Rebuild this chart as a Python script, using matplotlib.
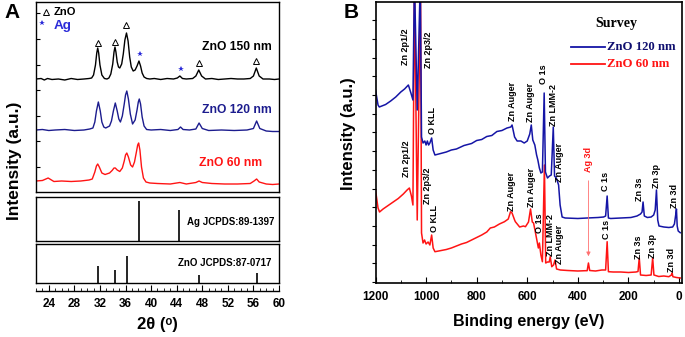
import numpy as np
import matplotlib
matplotlib.use('Agg')
import matplotlib.pyplot as plt

plt.rcParams['font.family'] = ['Liberation Sans', 'DejaVu Sans']
plt.rcParams['font.weight'] = 'bold'

# ---------------- panel A : XRD ----------------
tt_150 = [22.0, 22.8, 23.3, 23.8, 24.5, 25.5, 26.5, 27.5, 28.5, 29.5, 30.3, 30.7, 31.0, 31.3, 31.5, 31.65, 31.8,
          32.0, 32.3, 32.7, 33.1, 33.4, 33.7, 34.0, 34.2, 34.35, 34.5, 34.7, 34.9, 35.1, 35.4, 35.65, 35.9,
          36.15, 36.4, 36.65, 36.9, 37.2, 37.5, 37.8, 38.1, 38.35, 38.6, 38.9, 39.3, 39.8, 40.5, 41.5, 42.5,
          43.5, 44.1, 44.5, 44.9, 45.5, 46.5, 47.0, 47.45, 47.9, 48.5, 49.5, 50.5, 51.5, 52.5, 53.5, 54.5,
          55.5, 56.0, 56.45, 56.9, 57.5, 58.5, 59.3, 60.0]
int_150 = [113, 113.5, 112, 113.5, 112.5, 113, 112, 113.5, 112.5, 113, 113.5, 114, 117, 127, 139, 144, 139,
           127, 117, 113.5, 113, 114, 118, 128, 140, 145, 140, 130, 125, 124, 128, 138, 152,
           159, 151, 135, 125, 121, 122, 126, 131, 126, 119, 115, 113.5, 113, 113.5, 112.5, 113.5,
           113, 114, 116, 113.5, 113, 113.5, 116, 122, 116, 113, 113.5, 112.5, 113, 113.5, 113, 113,
           113.5, 116, 124, 116, 113, 113, 112.5, 113]

tt_120 = [22.0, 23.0, 24.0, 25.0, 26.5, 28.0, 29.5, 30.4, 30.9, 31.2, 31.45, 31.75, 32.05, 32.3, 32.6, 32.9,
          33.5, 33.8, 34.1, 34.4, 34.7, 34.95, 35.2, 35.5, 35.8, 36.0, 36.2, 36.45, 36.75, 37.1, 37.5, 37.8,
          38.0, 38.15, 38.35, 38.6, 38.9, 39.3, 40.0, 41.5, 43.0, 44.2, 44.6, 45.0, 46.0, 47.0, 47.5, 48.0,
          49.0, 51.0, 53.0, 55.0, 56.0, 56.5, 57.0, 58.0, 59.0, 60.0]
int_120 = [62, 62.5, 61.5, 62, 62.5, 61.5, 62, 63, 64, 70, 81, 90, 81, 70, 65, 64,
           66, 71, 81, 89, 81, 73, 70, 76, 88, 97, 101, 93, 78, 68, 72, 82,
           90, 93, 88, 75, 66, 62.5, 62, 62.5, 61.5, 62.5, 65, 62.5, 62, 63, 69, 63.5,
           61.5, 62, 61.5, 62, 63.5, 71, 63.5, 61, 60.5, 60.5]

tt_60 = [22.0, 23.0, 23.9, 24.8, 26.0, 27.5, 29.0, 30.3, 30.8, 31.2, 31.45, 31.65, 31.9, 32.3, 32.8, 33.5,
         33.9, 34.2, 34.4, 34.7, 35.1, 35.5, 35.8, 36.0, 36.2, 36.45, 36.8, 37.1, 37.4, 37.7, 37.9, 38.05,
         38.25, 38.5, 38.8, 39.2, 39.8, 41.0, 43.0, 44.5, 45.5, 47.0, 47.5, 48.0, 49.5, 51.5, 53.5, 55.5,
         56.1, 56.5, 56.9, 58.0, 59.0, 60.0]
int_60 = [11, 11.5, 14, 10.5, 11, 10.5, 11, 12, 13, 20, 26, 28, 25, 19, 17.5, 19,
          21.5, 24, 24, 22, 20.5, 24, 31, 37, 39, 35, 27, 25, 30, 40, 47, 49,
          42, 25, 14, 10, 9, 8.5, 8, 9.5, 8, 9.5, 11, 9.5, 8.5, 8, 8, 8.5,
          11, 13, 10, 8, 7.5, 8]

zno_mark_tt = [31.65, 34.35, 36.15, 47.45, 56.45]
zno_mark_int = [149, 150, 167, 129.5, 131]
ag_mark_tt = [38.2, 44.6]
ag_mark_int = [138, 123]

ag_ref_tt = [38.1, 44.3]
ag_ref_int = [100, 77]
zno_ref_tt = [31.77, 34.42, 36.25, 47.54, 56.6]
zno_ref_int = [63, 48, 100, 30, 37]

# ---------------- panel B : XPS survey ----------------
be_120 = [1200, 1190, 1185, 1175, 1160, 1140, 1120, 1100, 1085, 1070, 1060, 1052, 1046, 1035, 1023, 1018,
          1012, 1005, 1000, 995, 990, 985, 978, 972, 965, 950, 920, 900, 880, 850, 820, 800, 780, 760,
          740, 720, 700, 680, 665, 660, 650, 640, 625, 612, 600, 590, 584, 578, 570, 563, 558, 552, 546,
          540, 533, 528, 520, 512, 505, 497, 492, 485, 476, 470, 462, 450, 400, 363, 320, 298, 290, 284,
          279, 270, 230, 190, 166, 152, 146, 142, 137, 125, 110, 100, 94, 89, 84, 79, 60, 40, 25, 18,
          13, 10, 7, 3, -5]
xps_120 = [193, 178, 176, 177, 178.5, 182, 186, 191, 194, 198, 190, 183, 303, 173, 303, 146,
           140, 142, 138, 142, 138, 140, 145, 133, 128, 129, 131, 133, 134, 137.5, 139.5, 142.5, 143.5, 146.5,
           147.5, 151.5, 152.5, 155, 156, 158, 146, 142, 142, 140, 142, 149, 158, 143, 138, 128, 123, 115, 110,
           111, 190, 111, 105, 107, 108, 156, 107, 105, 98, 78, 66, 65, 64.5, 65, 65.5, 66, 67, 87,
           65, 64.5, 65, 65.5, 67, 69, 71, 81, 67, 65.5, 66, 68, 73, 93, 63, 57, 56, 55.5, 56, 59,
           68, 74, 57, 52, 50.3]

be_60 = [1200, 1190, 1184, 1170, 1150, 1130, 1110, 1090, 1075, 1066, 1058, 1052, 1046, 1035, 1022, 1018,
         1012, 1006, 1000, 992, 985, 978, 972, 965, 950, 920, 900, 880, 860, 840, 820, 800, 780, 760,
         746, 730, 710, 690, 675, 666, 660, 650, 647, 630, 615, 607, 595, 587, 580, 575, 568, 562, 556,
         552, 546, 540, 532, 527, 520, 513, 509, 503, 496, 490, 484, 469, 440, 400, 370, 363, 358, 353,
         330, 305, 290, 284, 279, 260, 230, 200, 170, 162, 157, 152, 130, 110, 104, 99, 80, 60, 40, 30,
         27, 24, 10, -5]
xps_60 = [93, 75, 71, 74, 77.5, 81, 84.5, 89, 93, 95, 87, 78, 303, 63, 303, 50,
          40, 43, 39, 41, 38, 48, 35, 31.3, 32, 33.5, 35, 37, 39, 40.5, 43, 45.5, 48, 51,
          55, 56, 59, 61.3, 64, 71.3, 70, 63, 61.3, 56, 57, 56.3, 61, 74, 61, 60, 51, 43, 35,
          40, 28, 21.3, 118, 20, 21, 21, 26.3, 16.3, 18, 23, 14, 13, 12.5, 12, 12.3, 12.3, 20, 12.5,
          12, 13, 13, 41.3, 11.3, 11, 11, 10.5, 11, 11.5, 25, 8, 7.5, 8, 25, 8, 6.5, 7, 6.3, 8,
          10, 6.3, 5.5, 5]

labels_120 = [('Zn 2p1/2', 1081, 236), ('Zn 2p3/2', 992, 233), ('O KLL', 974, 162), ('Zn Auger', 660, 182),
              ('Zn Auger', 587, 181), ('O 1s', 535, 209), ('Zn LMM-2', 498, 178), ('Zn Auger', 472, 121),
              ('C 1s', 291, 102), ('Zn 3s', 156, 94), ('Zn 3p', 90, 107), ('Zn 3d', 18, 87)]
labels_60 = [('Zn 2p1/2', 1077, 124), ('Zn 2p3/2', 996, 97), ('O KLL', 965, 64), ('Zn Auger', 662, 92),
             ('Zn Auger', 583, 96), ('O 1s', 553, 60), ('Zn LMM-2', 507, 48), ('Zn Auger', 472, 39),
             ('C 1s', 287, 54), ('Zn 3s', 160, 36), ('Zn 3p', 103, 37), ('Zn 3d', 31, 23)]

navy = '#1c1c8e'
blue = '#1515a6'
red = '#ff1414'

W, H = 685, 337
fig = plt.figure(figsize=(W / 100, H / 100), dpi=100)

def box(x0, y0, x1, y1):
    # pixel box (top-left origin) -> figure fraction rect
    return [x0 / W, 1 - y1 / H, (x1 - x0) / W, (y1 - y0) / H]

# ---- A main ----
axA = fig.add_axes(box(36, 2, 279, 192))
axA.plot(tt_150, int_150, color='black', lw=1.0)
axA.plot(tt_120, int_120, color=navy, lw=1.0)
axA.plot(tt_60, int_60, color=red, lw=1.0)
axA.plot(zno_mark_tt, zno_mark_int, ls='none', marker='^', mfc='none', mec='black', ms=5, mew=0.7)
axA.plot(ag_mark_tt, ag_mark_int, ls='none', marker='*', color='#2a2ad8', ms=4, mew=0)
axA.set_xlim(22, 60)
axA.set_ylim(0, 190)
axA.set_xticks([])
axA.set_yticks(np.arange(25, 190, 25.6))
axA.tick_params(axis='y', direction='in', length=3, width=0.8, labelleft=False)
axA.plot([23.5], [180], ls='none', marker='^', mfc='none', mec='black', ms=5, mew=0.7)
axA.text(24.7, 180, 'ZnO', fontsize=8, va='center', ha='left')
axA.plot([22.9], [169], ls='none', marker='*', color='#2a2ad8', ms=4, mew=0)
axA.text(24.7, 165.5, 'Ag', fontsize=9.7, va='center', ha='left', color='#2a2ad8')
axA.text(48.0, 145, 'ZnO 150 nm', fontsize=8.7, va='center', ha='left', color='black')
axA.text(48.0, 82, 'ZnO 120 nm', fontsize=8.7, va='center', ha='left', color=navy)
axA.text(47.5, 29, 'ZnO 60 nm', fontsize=8.7, va='center', ha='left', color=red)
for s in axA.spines.values():
    s.set_linewidth(1.0)

# ---- A references ----
axAg = fig.add_axes(box(36, 197, 279, 241))
axAg.vlines(ag_ref_tt, 0, ag_ref_int, color='black', lw=1.2)
axAg.set_xlim(22, 60)
axAg.set_ylim(0, 109)
axAg.set_xticks([]); axAg.set_yticks([])
axAg.text(45.6, 0.43, 'Ag JCPDS:89-1397', fontsize=7, va='center', ha='left',
          transform=axAg.get_xaxis_transform())

axZ = fig.add_axes(box(36, 244, 279, 283))
axZ.vlines(zno_ref_tt, 0, zno_ref_int, color='black', lw=1.2)
axZ.set_xlim(22, 60)
axZ.set_ylim(0, 145)
axZ.set_xticks([]); axZ.set_yticks([])
axZ.text(44.2, 0.51, 'ZnO JCPDS:87-0717', fontsize=7, va='center', ha='left',
         transform=axZ.get_xaxis_transform())
for a in (axAg, axZ):
    for s in a.spines.values():
        s.set_linewidth(1.0)

axT = fig.add_axes(box(36, 290.5, 279, 290.7))
axT.patch.set_visible(False)
for k in ('left', 'right', 'top'):
    axT.spines[k].set_visible(False)
axT.spines['bottom'].set_linewidth(1.0)
axT.set_xlim(22, 60)
axT.set_yticks([])
axT.set_xticks(np.arange(24, 61, 4))
axT.set_xticks(np.arange(22, 61, 1), minor=True)
axT.tick_params(axis='x', which='major', direction='in', length=4, width=0.8, labelsize=8.5, pad=5)
axT.tick_params(axis='x', which='minor', direction='in', length=2, width=0.6)
fig.text(157.5 / W, 1 - 325 / H, '2θ (ᵒ)', fontsize=12, ha='center', va='center')
fig.text(15 / W, 1 - 161 / H, 'Intensity (a.u.)', fontsize=12.5, ha='center', va='center', rotation=90)
fig.text(12 / W, 1 - 12.5 / H, 'A', fontsize=15, ha='center', va='center')

# ---- B ----
axB = fig.add_axes(box(375.5, 2, 682, 283))
axB.plot(be_60, xps_60, color=red, lw=1.1)
axB.plot(be_120, xps_120, color=blue, lw=1.1)
axB.set_xlim(1200, -12)
axB.set_ylim(0, 281)
axB.set_xticks(np.arange(0, 1201, 200))
axB.set_xticks(np.arange(0, 1201, 100), minor=True)
axB.set_yticks(np.arange(1, 281, 18.7))
axB.tick_params(axis='x', which='major', direction='in', length=4, width=0.8, labelsize=8.5, pad=6)
axB.tick_params(axis='x', which='minor', direction='in', length=2, width=0.6)
axB.tick_params(axis='y', direction='out', length=3, width=0.8, labelleft=False)
for s in axB.spines.values():
    s.set_linewidth(1.2)
for txt, x, y in labels_120 + labels_60:
    axB.text(x, y, txt, fontsize=6.5, rotation=90, ha='center', va='center')
axB.text(359, 123, 'Ag 3d', fontsize=6.5, rotation=90, ha='center', va='center', color=red)
axB.annotate('', xy=(358, 24), xytext=(358, 105),
             arrowprops=dict(arrowstyle='-|>', color='#ff7070', lw=0.6, mutation_scale=6))
serif = ['Liberation Serif', 'DejaVu Serif']
axB.text(0.785, 0.925, 'Survey', transform=axB.transAxes, fontsize=10, family=serif, ha='center', va='center')
axB.plot([0.638, 0.749], [0.84, 0.84], transform=axB.transAxes, color=blue, lw=1.3)
axB.plot([0.638, 0.749], [0.779, 0.779], transform=axB.transAxes, color=red, lw=1.3)
axB.text(0.755, 0.84, 'ZnO 120 nm', transform=axB.transAxes, fontsize=9.2, family=serif, va='center', color='#101070')
axB.text(0.755, 0.779, 'ZnO 60 nm', transform=axB.transAxes, fontsize=9.2, family=serif, va='center', color=red)
fig.text(529 / W, 1 - 321.7 / H, 'Binding energy (eV)', fontsize=11.5, ha='center', va='center')
fig.text(349 / W, 1 - 134 / H, 'Intensity (a.u.)', fontsize=12, ha='center', va='center', rotation=90)
fig.text(351 / W, 1 - 12.5 / H, 'B', fontsize=15, ha='center', va='center')

fig.savefig('out.png', dpi=100)
